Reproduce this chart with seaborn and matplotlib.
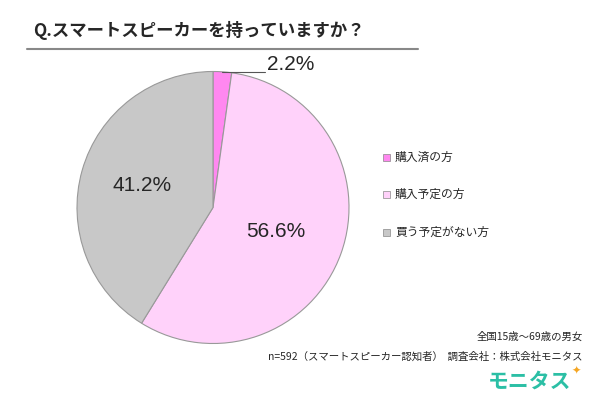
import matplotlib.pyplot as plt
import seaborn as sns

labels = ["購入済の方", "購入予定の方", "買う予定がない方"]
shares = [2.2, 56.6, 41.2]
colors = ["#ff88f0", "#ffd2fa", "#c8c8c8"]

sns.set_theme(style="white")
plt.rcParams["font.family"] = ["Noto Sans CJK JP", "DejaVu Sans"]

fig = plt.figure(figsize=(6, 3.96), dpi=100)
ax = fig.add_axes([77 / 600, 1 - 343.5 / 396, 272 / 600, 272 / 396])

wedges, _ = ax.pie(shares, colors=colors, startangle=90, counterclock=False,
                   wedgeprops=dict(edgecolor="#999999", linewidth=0.8))
ax.set_xlim(-1, 1)
ax.set_ylim(-1, 1)
ax.set_aspect("equal")
ax.set_axis_off()

pct_font = ["Liberation Sans", "DejaVu Sans"]
ax.text(0.46, -0.18, f"{shares[1]}%", ha="center", va="center", fontsize=15,
        family=pct_font)
ax.text(-0.52, 0.16, f"{shares[2]}%", ha="center", va="center", fontsize=15,
        family=pct_font)
# leader for small slice
ax.plot([0.066, 0.38], [1.0, 1.0], color="#555555", lw=0.8, clip_on=False)
ax.text(0.40, 1.05, f"{shares[0]}%", ha="left", va="center", fontsize=15,
        family=pct_font, clip_on=False)

fig.text(33 / 600, 1 - 30 / 396, "Q.スマートスピーカーを持っていますか？",
         fontsize=12.5, fontweight="bold", va="center", ha="left")
fig.add_artist(plt.Line2D([27 / 600, 418 / 600], [1 - 49 / 396, 1 - 49 / 396],
                          color="#888888", lw=1.5))

for i, (lab, c) in enumerate(zip(labels, colors)):
    y = 1 - (157 + 37.5 * i) / 396
    fig.patches.append(plt.Rectangle((383 / 600, y - 3.5 / 396), 7 / 600, 7 / 396,
                                     transform=fig.transFigure, facecolor=c,
                                     edgecolor="#888888", lw=0.5))
    fig.text(395 / 600, y, lab, fontsize=8.5, va="center", ha="left")

fig.text(583 / 600, 1 - 337 / 396, "全国15歳～69歳の男女", fontsize=7.5,
         ha="right", va="center")
fig.text(583 / 600, 1 - 357 / 396,
         "n=592（スマートスピーカー認知者）  調査会社：株式会社モニタス",
         fontsize=7.5, ha="right", va="center")
fig.text(571 / 600, 1 - 381 / 396, "モニタス", fontsize=15, fontweight="bold",
         color="#2bbfa5", ha="right", va="center")
fig.text(576 / 600, 1 - 371 / 396, "✦", fontsize=8, color="#f5a623",
         ha="center", va="center", family=["DejaVu Sans"])

fig.savefig("out.png", dpi=100, facecolor="white")
